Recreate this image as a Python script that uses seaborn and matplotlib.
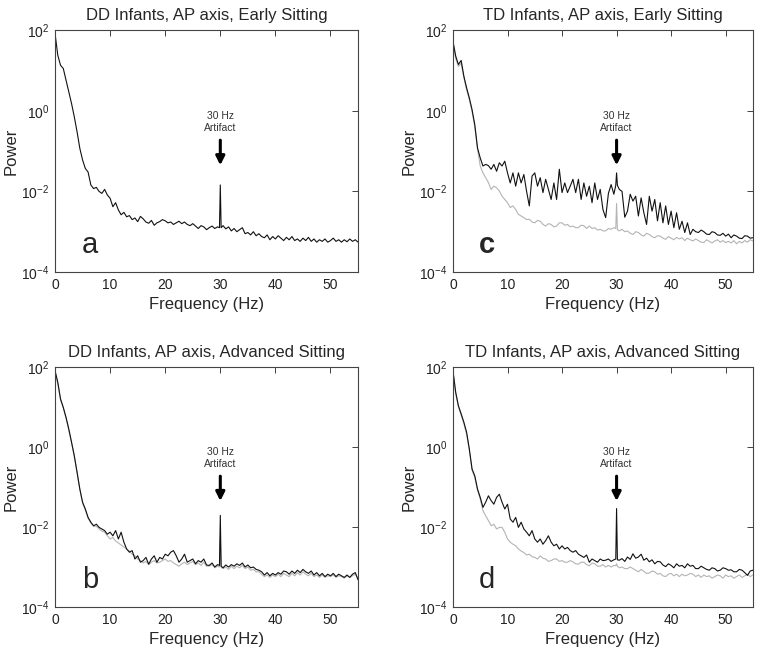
import numpy as np
import pandas as pd
import seaborn as sns
import matplotlib
matplotlib.use("Agg")
import matplotlib.pyplot as plt
from matplotlib.ticker import NullLocator

# frequency bins (Hz): 0.5 Hz steps plus a finer step around the 30 Hz artifact
freq = np.concatenate([np.arange(0, 30, 0.5), [29.85, 30.0, 30.15], np.arange(30.5, 55.01, 0.5)])

# power spectra as log10(power)
# rows: 0-9.5 Hz | 10-19.5 | 20-29.5 | 29.85,30,30.15 | 30.5-39.5 | 40-55
a_black = [1.92, 1.38, 1.13, 1.05, 0.76, 0.47, 0.18, -0.15, -0.52, -0.93, -1.22, -1.43, -1.52, -1.84, -1.93, -1.90, -2.00, -2.05, -1.95, -2.09,
           -2.17, -2.38, -2.28, -2.46, -2.58, -2.52, -2.63, -2.60, -2.70, -2.66, -2.75, -2.62, -2.68, -2.76, -2.79, -2.72, -2.84, -2.78, -2.75, -2.70,
           -2.73, -2.78, -2.76, -2.82, -2.78, -2.74, -2.80, -2.76, -2.82, -2.85, -2.80, -2.86, -2.92, -2.85, -2.88, -2.95, -2.90, -2.86, -2.92, -2.88,
           -2.90, -1.84, -2.90,
           -2.85, -2.93, -2.88, -2.98, -2.92, -3.00, -2.95, -2.90, -3.05, -3.02, -3.08, -3.00, -3.10, -3.05, -3.12, -3.15, -3.08, -3.20, -3.12,
           -3.18, -3.10, -3.16, -3.22, -3.14, -3.20, -3.12, -3.22, -3.18, -3.24, -3.16, -3.22, -3.14, -3.24, -3.18, -3.26, -3.20, -3.24, -3.18, -3.26,
           -3.22, -3.16, -3.24, -3.20, -3.26, -3.20, -3.25, -3.18, -3.24, -3.20, -3.26]

b_black = [1.91, 1.62, 1.20, 0.99, 0.74, 0.45, 0.12, -0.22, -0.63, -1.05, -1.38, -1.55, -1.76, -1.88, -1.97, -1.93, -2.01, -2.05, -2.09, -2.18,
           -2.13, -2.22, -2.09, -2.30, -2.13, -2.38, -2.55, -2.63, -2.59, -2.80, -2.72, -2.88, -2.84, -2.76, -2.93, -2.80, -2.72, -2.88, -2.76, -2.80,
           -2.68, -2.72, -2.63, -2.59, -2.72, -2.88, -2.80, -2.68, -2.88, -2.84, -2.80, -2.92, -2.84, -2.88, -2.80, -2.95, -2.96, -2.90, -3.00, -2.94,
           -2.96, -1.71, -2.98,
           -3.02, -2.95, -3.00, -2.94, -2.98, -2.92, -2.96, -2.90, -3.00, -2.95, -3.02, -3.00, -3.06, -3.08, -3.12, -3.20, -3.14, -3.22, -3.16,
           -3.20, -3.14, -3.18, -3.10, -3.12, -3.18, -3.10, -3.16, -3.08, -3.14, -3.06, -3.12, -3.16, -3.10, -3.20, -3.14, -3.22, -3.16, -3.24, -3.18,
           -3.22, -3.16, -3.24, -3.18, -3.22, -3.26, -3.20, -3.26, -3.18, -3.14, -3.32]

b_grey = [1.88, 1.58, 1.18, 0.98, 0.72, 0.42, 0.10, -0.24, -0.64, -1.06, -1.40, -1.58, -1.78, -1.90, -1.98, -1.98, -2.05, -2.10, -2.13, -2.22,
          -2.30, -2.26, -2.35, -2.40, -2.45, -2.50, -2.55, -2.60, -2.68, -2.72, -2.80, -2.84, -2.90, -2.86, -2.94, -2.88, -2.84, -2.90, -2.88, -2.84,
          -2.80, -2.86, -2.84, -2.90, -2.94, -2.98, -2.92, -2.88, -2.94, -2.90, -2.86, -2.94, -2.90, -2.96, -2.88, -2.98, -2.98, -2.94, -3.02, -2.98,
          -3.00, -2.30, -3.00,
          -3.04, -3.00, -3.06, -2.98, -3.04, -2.98, -3.02, -2.96, -3.04, -3.00, -3.08, -3.06, -3.12, -3.12, -3.18, -3.24, -3.20, -3.26, -3.20,
          -3.24, -3.18, -3.24, -3.16, -3.20, -3.24, -3.16, -3.22, -3.14, -3.20, -3.12, -3.18, -3.22, -3.16, -3.24, -3.20, -3.26, -3.20, -3.26, -3.22,
          -3.24, -3.20, -3.26, -3.22, -3.24, -3.28, -3.22, -3.26, -3.22, -3.18, -3.28]

c_black = [1.73, 1.36, 1.15, 1.25, 0.86, 0.57, 0.32, 0.03, -0.34, -0.92, -1.17, -1.37, -1.33, -1.36, -1.45, -1.33, -1.50, -1.29, -1.37, -1.25,
           -1.54, -1.79, -1.54, -1.87, -1.54, -1.79, -1.58, -2.00, -2.36, -1.62, -1.54, -1.87, -1.66, -2.03, -1.70, -1.95, -2.20, -1.79, -2.20, -1.45,
           -2.03, -1.79, -2.03, -1.87, -1.70, -2.03, -1.70, -2.20, -1.79, -2.12, -1.87, -2.28, -1.79, -2.20, -1.95, -2.45, -2.65, -2.05, -1.83, -2.07,
           -1.85, -1.54, -1.85,
           -1.95, -2.00, -2.64, -2.49, -2.07, -2.24, -2.12, -2.61, -2.16, -2.53, -2.82, -2.12, -2.49, -2.20, -2.73, -2.28, -2.78, -2.36, -2.82,
           -2.49, -2.90, -2.53, -2.94, -2.74, -3.02, -2.78, -3.07, -2.94, -3.00, -3.02, -2.96, -3.00, -3.06, -3.07, -3.00, -3.02, -3.08, -3.09, -3.04,
           -3.11, -3.06, -3.15, -3.08, -3.11, -3.16, -3.17, -3.10, -3.11, -3.16, -3.15]

c_grey = [1.70, 1.30, 1.10, 1.18, 0.82, 0.52, 0.28, -0.02, -0.40, -0.95, -1.37, -1.54, -1.66, -1.78, -1.95, -1.87, -1.91, -1.99, -2.12, -2.20,
          -2.28, -2.40, -2.36, -2.45, -2.57, -2.61, -2.65, -2.70, -2.69, -2.76, -2.78, -2.72, -2.74, -2.82, -2.86, -2.80, -2.82, -2.88, -2.86, -2.78,
          -2.78, -2.84, -2.82, -2.88, -2.86, -2.90, -2.90, -2.84, -2.85, -2.92, -2.86, -2.92, -2.90, -2.96, -2.94, -2.98, -2.98, -2.92, -2.94, -2.90,
          -2.92, -2.30, -2.95,
          -2.98, -2.94, -3.00, -2.98, -3.04, -3.07, -3.00, -3.02, -3.08, -3.11, -3.04, -3.07, -3.12, -3.15, -3.10, -3.11, -3.16, -3.19, -3.12,
          -3.16, -3.20, -3.14, -3.18, -3.15, -3.22, -3.16, -3.20, -3.23, -3.18, -3.22, -3.26, -3.27, -3.20, -3.24, -3.28, -3.23, -3.20, -3.26, -3.22,
          -3.27, -3.24, -3.28, -3.22, -3.30, -3.24, -3.28, -3.22, -3.26, -3.20, -3.23]

d_black = [1.91, 1.37, 1.03, 0.83, 0.62, 0.37, -0.05, -0.55, -0.72, -1.05, -1.26, -1.51, -1.38, -1.22, -1.34, -1.43, -1.26, -1.18, -1.38, -1.55,
           -1.43, -1.80, -1.88, -1.76, -2.01, -1.88, -2.05, -2.13, -2.22, -2.09, -2.30, -2.38, -2.30, -2.43, -2.34, -2.22, -2.38, -2.47, -2.43, -2.55,
           -2.47, -2.55, -2.51, -2.59, -2.63, -2.59, -2.68, -2.72, -2.76, -2.70, -2.88, -2.80, -2.84, -2.88, -2.80, -2.84, -2.83, -2.80, -2.86, -2.82,
           -2.80, -1.54, -2.82,
           -2.83, -2.79, -2.86, -2.75, -2.81, -2.67, -2.78, -2.75, -2.68, -2.83, -2.78, -2.87, -2.82, -2.92, -2.86, -2.87, -2.95, -2.99, -2.92,
           -2.96, -3.02, -2.92, -2.98, -2.96, -3.02, -2.92, -2.98, -2.96, -3.04, -3.04, -2.98, -3.02, -3.06, -3.08, -3.02, -3.04, -3.10, -3.08, -3.02,
           -3.04, -3.08, -3.07, -3.12, -3.12, -3.06, -3.08, -3.14, -3.21, -3.10, -3.08]

d_grey = [1.88, 1.34, 1.00, 0.80, 0.58, 0.32, -0.08, -0.58, -0.76, -1.08, -1.30, -1.59, -1.72, -1.84, -1.97, -1.93, -2.05, -2.01, -2.01, -2.13,
          -2.30, -2.38, -2.43, -2.47, -2.55, -2.60, -2.64, -2.70, -2.68, -2.74, -2.76, -2.80, -2.72, -2.78, -2.80, -2.86, -2.84, -2.80, -2.80, -2.86,
          -2.84, -2.88, -2.88, -2.84, -2.87, -2.92, -2.93, -2.88, -2.88, -2.94, -2.97, -2.90, -2.92, -2.98, -2.98, -2.94, -3.00, -2.96, -3.00, -2.96,
          -2.97, -2.92, -2.98,
          -3.02, -3.00, -3.04, -3.04, -3.00, -3.04, -3.08, -3.12, -3.06, -3.11, -3.16, -3.15, -3.10, -3.12, -3.18, -3.16, -3.22, -3.24, -3.18,
          -3.16, -3.22, -3.18, -3.24, -3.18, -3.22, -3.20, -3.16, -3.18, -3.24, -3.20, -3.26, -3.20, -3.24, -3.22, -3.28, -3.24, -3.20, -3.22, -3.28,
          -3.20, -3.24, -3.22, -3.28, -3.24, -3.20, -3.26, -3.22, -3.18, -3.24, -3.20]

titles = ["DD Infants, AP axis, Early Sitting", "TD Infants, AP axis, Early Sitting",
          "DD Infants, AP axis, Advanced Sitting", "TD Infants, AP axis, Advanced Sitting"]
letters = ["a", "c", "b", "d"]

sns.set_style("white")
plt.rcParams['font.family'] = ['Liberation Sans', 'DejaVu Sans']
plt.rcParams['mathtext.fontset'] = 'custom'
plt.rcParams['mathtext.rm'] = 'Liberation Sans'

fig = plt.figure(figsize=(7.6, 6.57), dpi=100)
rects = [[0.0724, 0.586, 0.3987, 0.368], [0.596, 0.586, 0.3947, 0.368],
         [0.0724, 0.0761, 0.3987, 0.3653], [0.596, 0.0761, 0.3947, 0.3653]]
panels = [(None, a_black), (c_grey, c_black), (b_grey, b_black), (d_grey, d_black)]

for i in range(4):
    ax = fig.add_axes(rects[i])
    grey, black = panels[i]
    if grey is not None:
        sns.lineplot(x=freq, y=10 ** np.array(grey), ax=ax, color="#b4b4b4", lw=0.8)
    sns.lineplot(x=freq, y=10 ** np.array(black), ax=ax, color="#111111", lw=0.8)
    ax.set_yscale("log")
    ax.set_xlim(0, 55)
    ax.set_ylim(1e-4, 1e2)
    ax.set_yticks([1e-4, 1e-2, 1e0, 1e2])
    ax.yaxis.set_minor_locator(NullLocator())
    ax.set_xticks([0, 10, 20, 30, 40, 50])
    ax.tick_params(direction="in", top=True, right=True, length=4, width=0.6,
                   labelsize=10, colors="#222222", pad=4)
    for sp in ax.spines.values():
        sp.set_color("#444444")
        sp.set_linewidth(0.8)
    ax.set_xlabel("Frequency (Hz)", fontsize=12)
    ax.set_ylabel("Power", fontsize=12, labelpad=2)
    ax.set_title(titles[i], fontsize=12, pad=7)
    ax.text(30, 10 ** -0.13, "30 Hz", ha="center", va="center", fontsize=7.5, color="#333333")
    ax.text(30, 10 ** -0.43, "Artifact", ha="center", va="center", fontsize=7.5, color="#333333")
    ax.annotate("", xy=(30, 10 ** -1.42), xytext=(30, 10 ** -0.66),
                arrowprops=dict(arrowstyle="-|>", lw=2.2, color="black", mutation_scale=13))
    ax.text(6.3, 10 ** -3.53, letters[i], ha="center", va="baseline", fontsize=21,
            fontweight="bold" if letters[i] == "c" else "normal")

fig.savefig("out.png", dpi=100)
